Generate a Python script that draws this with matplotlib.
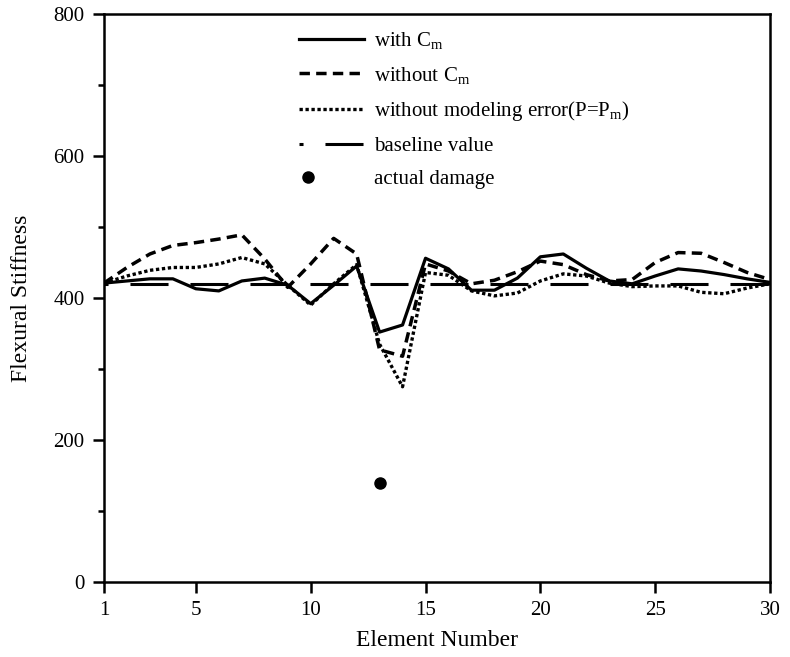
import numpy as np
import matplotlib
matplotlib.use("Agg")
import matplotlib.pyplot as plt
from matplotlib.legend_handler import HandlerLine2D
from matplotlib.ticker import MultipleLocator, FixedLocator

plt.rcParams['font.family'] = ['Liberation Serif', 'DejaVu Serif']
plt.rcParams['mathtext.fontset'] = 'custom'
plt.rcParams['mathtext.rm'] = 'Liberation Serif'
plt.rcParams['mathtext.it'] = 'Liberation Serif:italic'
plt.rcParams['lines.scale_dashes'] = False

# ---- data ----
elements = list(range(1, 31))
with_cm = [421, 424, 427, 427, 413, 410, 424, 428, 418, 392,
           418, 445, 352, 362, 456, 441, 411, 411, 428, 458,
           462, 442, 424, 420, 431, 441, 438, 433, 427, 422]
without_cm = [421, 443, 462, 474, 478, 483, 489, 455, 415, 448,
              484, 462, 327, 318, 448, 438, 420, 425, 437, 452,
              447, 433, 424, 426, 450, 464, 463, 450, 436, 426]
without_err = [421, 431, 439, 443, 443, 448, 457, 448, 418, 390,
               420, 447, 335, 275, 436, 432, 410, 403, 407, 424,
               434, 431, 421, 416, 417, 417, 408, 406, 414, 420]
baseline = [420] * 30
damage_x = [13]
damage_y = [140]

labels = ["with C$_\\mathrm{m}$", "without C$_\\mathrm{m}$",
          "without modeling error(P=P$_\\mathrm{m}$)", "baseline value",
          "actual damage"]
xticks = [1, 5, 10, 15, 20, 25, 30]
yticks = [0, 200, 400, 600, 800]

fig = plt.figure(figsize=(7.9, 6.57), dpi=100)
ax = fig.add_axes([104/790, 1-582/657, (770-104)/790, (582-14)/657])

l1, = ax.plot(elements, with_cm, color='black', lw=2.3, ls='-')
l2, = ax.plot(elements, without_cm, color='black', lw=2.5, ls=(0, (7.5, 4.5)))
l3, = ax.plot(elements, without_err, color='black', lw=2.4, ls=(0, (2.4, 1.9)))
l4, = ax.plot(elements, baseline, color='black', lw=2.2, ls=(24.5, (27.4, 15.8)))
l5, = ax.plot(damage_x, damage_y, color='black', ls='none', marker='o', ms=8)

ax.set_xlim(1, 30)
ax.set_ylim(0, 800)
ax.xaxis.set_major_locator(FixedLocator(xticks))
ax.yaxis.set_major_locator(FixedLocator(yticks))
ax.yaxis.set_minor_locator(MultipleLocator(100))
ax.tick_params(axis='both', which='major', direction='out', length=8, width=1.8,
               labelsize=15, top=False, right=False, pad=6)
ax.tick_params(axis='y', which='minor', direction='out', length=4.5, width=1.8,
               right=False)
for s in ax.spines.values():
    s.set_linewidth(1.8)

ax.set_xlabel("Element Number", fontsize=17, labelpad=7)
ax.set_ylabel("Flexural Stiffness", fontsize=17, labelpad=15)


class LeftMarkerHandler(HandlerLine2D):
    def get_xdata(self, legend, xdescent, ydescent, width, height, fontsize):
        x = -xdescent + 0.45 * fontsize
        return np.array([x, x]), np.array([x])


fig.legend([l1, l2, l3, l4, l5], labels,
           loc='upper left', bbox_to_anchor=(299/790, 1-30/657),
           bbox_transform=fig.transFigure, frameon=False, fontsize=15,
           handlelength=3.1, handletextpad=0.5, labelspacing=0.65,
           borderpad=0, borderaxespad=0,
           handler_map={l5: LeftMarkerHandler(numpoints=1)})

fig.savefig("out.png", dpi=100)
